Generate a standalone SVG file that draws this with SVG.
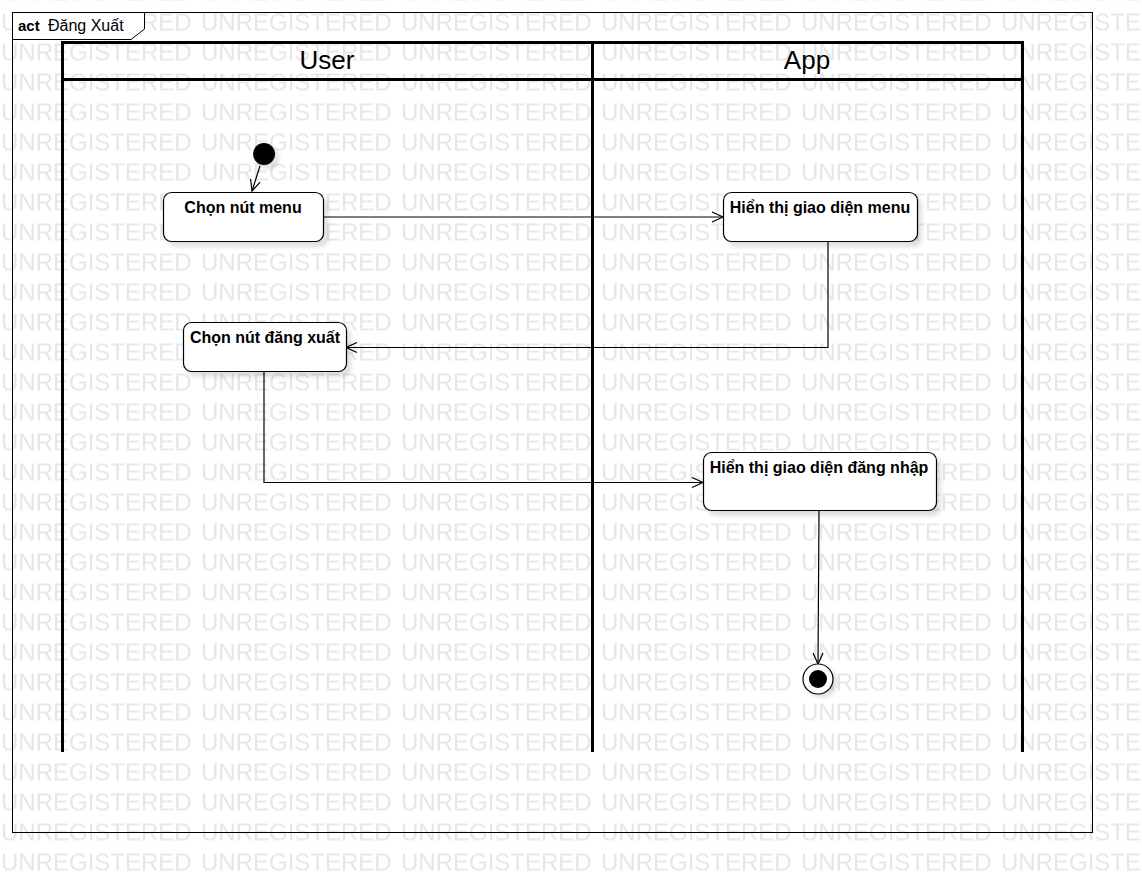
<svg xmlns="http://www.w3.org/2000/svg" width="1142" height="882" viewBox="0 0 1142 882">
<style>
.wm{font-family:"Liberation Sans",Arial,sans-serif;font-size:24px;fill:#e6e6e6}
.lbl{font-family:"Liberation Sans",Arial,sans-serif;font-size:16px;font-weight:bold;fill:#000;text-anchor:middle}
.hdr{font-family:"Liberation Sans",Arial,sans-serif;font-size:26px;fill:#000;text-anchor:middle}
.node{fill:#fff;stroke:#000;stroke-width:1.2}
.shadow{fill:#000;opacity:0.12;filter:url(#blur)}
.lane{stroke:#000;stroke-width:3;fill:none}
.conn{fill:none;stroke:#000;stroke-width:1.2}
</style>
<defs>
<pattern id="wmp" patternUnits="userSpaceOnUse" x="0" y="2.5" width="200" height="30">
<text class="wm" x="1" y="28">UNREGISTERED</text>
</pattern>
<filter id="blur" x="-20%" y="-20%" width="140%" height="140%"><feGaussianBlur stdDeviation="2"/></filter>
<marker id="arr" markerWidth="14" markerHeight="12" refX="12" refY="6" orient="auto" markerUnits="userSpaceOnUse">
<path d="M1,1 L12,6 L1,11" fill="none" stroke="#000" stroke-width="1.2"/>
</marker>
</defs>
<rect x="0" y="0" width="1142" height="882" fill="#fff"/>
<rect x="0" y="0" width="1142" height="882" fill="url(#wmp)"/>
<g id="frame">
<rect x="12.5" y="12.5" width="1080" height="820" fill="none" stroke="#000" stroke-width="1"/>
<path d="M12.5,12.5 H144.5 V29 L131,39.5 H12.5 Z" fill="#fff" stroke="#000" stroke-width="1"/>
<text x="18" y="31" style="font-family:'Liberation Sans',Arial,sans-serif;font-size:15px;font-weight:bold">act</text>
<text x="48" y="31" style="font-family:'Liberation Sans',Arial,sans-serif;font-size:16px">Đăng Xuất</text>
</g>
<g id="swimlanes">
<rect x="62.5" y="42.5" width="960" height="37" fill="#fff" class="lane"/>
<line class="lane" x1="62.5" y1="42" x2="62.5" y2="752"/>
<line class="lane" x1="592.5" y1="42" x2="592.5" y2="752"/>
<line class="lane" x1="1022.5" y1="42" x2="1022.5" y2="752"/>
<text class="hdr" x="327" y="69">User</text>
<text class="hdr" x="807" y="69">App</text>
</g>
<g id="connectors">
<line class="conn" x1="260" y1="166" x2="252" y2="191" marker-end="url(#arr)"/>
<line class="conn" x1="323" y1="217" x2="723" y2="217" marker-end="url(#arr)"/>
<polyline class="conn" points="828,242 828,347.5 346,347.5" marker-end="url(#arr)"/>
<polyline class="conn" points="264,372 264,482.5 703,482.5" marker-end="url(#arr)"/>
<line class="conn" x1="819" y1="511" x2="818" y2="664" marker-end="url(#arr)"/>
</g>
<g id="start">
<circle cx="268" cy="158" r="11" class="shadow"/>
<circle cx="264" cy="154" r="11" fill="#000"/>
</g>
<g id="n1">
<rect x="168" y="197" width="160" height="50" rx="8" class="shadow"/>
<rect x="163.5" y="192.5" width="160" height="49" rx="8" class="node"/>
<text class="lbl" x="243" y="213">Chọn nút menu</text>
</g>
<g id="n2">
<rect x="728" y="197" width="194" height="50" rx="8" class="shadow"/>
<rect x="723.5" y="192.5" width="194" height="49" rx="8" class="node"/>
<text class="lbl" x="820" y="213">Hiển thị giao diện menu</text>
</g>
<g id="n3">
<rect x="188" y="327" width="163" height="50" rx="8" class="shadow"/>
<rect x="183.5" y="322.5" width="163" height="49" rx="8" class="node"/>
<text class="lbl" x="265" y="343">Chọn nút đăng xuất</text>
</g>
<g id="n4">
<rect x="708" y="457" width="233" height="59" rx="8" class="shadow"/>
<rect x="703.5" y="452.5" width="233" height="58" rx="8" class="node"/>
<text class="lbl" x="819" y="473">Hiển thị giao diện đăng nhập</text>
</g>
<g id="end">
<circle cx="822" cy="683" r="15" class="shadow"/>
<circle cx="818" cy="679" r="15" fill="#fff" stroke="#000" stroke-width="1.2"/>
<circle cx="818" cy="679" r="9" fill="#000"/>
</g>
</svg>
